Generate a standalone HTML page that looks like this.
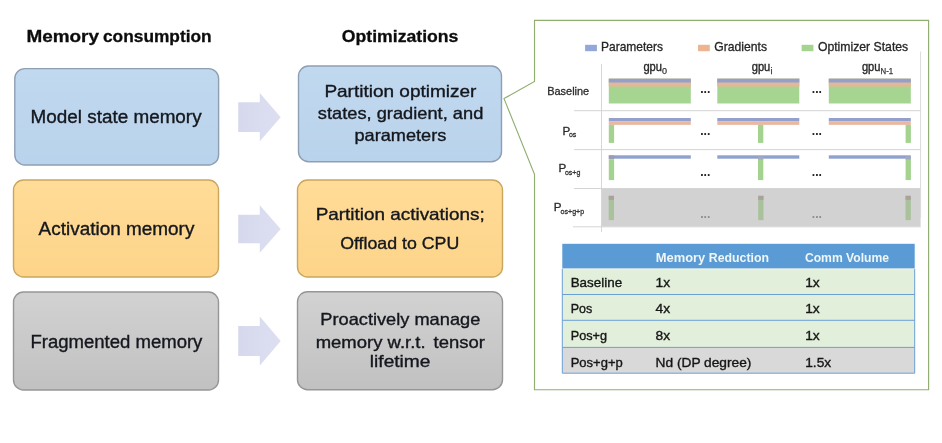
<!DOCTYPE html>
<html><head><meta charset="utf-8">
<style>
html,body{margin:0;padding:0;background:#fff;}
body{width:942px;height:443px;overflow:hidden;font-family:"Liberation Sans",sans-serif;}
svg{display:block;will-change:transform;}
text{font-family:"Liberation Sans",sans-serif;}
.t{fill:#0c0c0c;font-weight:bold;font-size:17.3px;stroke:#0c0c0c;stroke-width:.3px;}
.b{fill:#14171d;font-size:17.6px;stroke:#14171d;stroke-width:.35px;}
.b2{fill:#14171d;font-size:16.5px;stroke:#14171d;stroke-width:.35px;}
.l{fill:#262626;font-size:12.4px;stroke:#262626;stroke-width:.3px;}
.r{fill:#2a2a2a;font-size:11.6px;stroke:#2a2a2a;stroke-width:.3px;}
.s{fill:#333;font-size:7.6px;stroke:#333;stroke-width:.3px;}
.s2{fill:#333;font-size:9px;stroke:#333;stroke-width:.25px;}
.g{fill:#2a2a2a;font-size:12.6px;stroke:#2a2a2a;stroke-width:.4px;}
.c{fill:#161616;font-size:12.6px;stroke:#161616;stroke-width:.35px;}
.h{fill:#eef6f6;font-weight:bold;font-size:12.4px;}
.d{fill:#222;font-size:13px;font-weight:bold;}
</style></head>
<body>
<svg width="942" height="443" viewBox="0 0 942 443">
<defs>
<linearGradient id="gb" x1="0" y1="0" x2="0" y2="1"><stop offset="0" stop-color="#c1d9ef"/><stop offset="1" stop-color="#b9d3ec"/></linearGradient>
<linearGradient id="go" x1="0" y1="0" x2="0" y2="1"><stop offset="0" stop-color="#ffdc98"/><stop offset="1" stop-color="#fdd489"/></linearGradient>
<linearGradient id="gg" x1="0" y1="0" x2="0" y2="1"><stop offset="0" stop-color="#d2d2d2"/><stop offset="1" stop-color="#c1c1c1"/></linearGradient>
<linearGradient id="ga" x1="0" y1="0" x2="1" y2="0"><stop offset="0" stop-color="#d6d9ed"/><stop offset="1" stop-color="#dddff1"/></linearGradient>
</defs>
<rect width="942" height="443" fill="#fff"/>

<!-- titles -->
<text class="t" x="26.4" y="41.9" textLength="72.6" lengthAdjust="spacingAndGlyphs">Memory</text>
<text class="t" x="103" y="41.9" textLength="108.6" lengthAdjust="spacingAndGlyphs">consumption</text>
<text class="t" x="341.8" y="41.9" textLength="116.6" lengthAdjust="spacingAndGlyphs">Optimizations</text>

<!-- left boxes -->
<rect x="14.8" y="68.6" width="203.8" height="96.4" rx="10" fill="url(#gb)" stroke="#8f9fb3" stroke-width="1.4"/>
<rect x="13.5" y="180" width="205" height="97" rx="10" fill="url(#go)" stroke="#c9a75f" stroke-width="1.4"/>
<rect x="13.5" y="292" width="205" height="98" rx="10" fill="url(#gg)" stroke="#969696" stroke-width="1.4"/>

<!-- right boxes -->
<rect x="298.5" y="66" width="203" height="95.7" rx="10" fill="url(#gb)" stroke="#8f9fb3" stroke-width="1.4"/>
<rect x="297.5" y="180" width="205" height="97" rx="10" fill="url(#go)" stroke="#c9a75f" stroke-width="1.4"/>
<rect x="297.5" y="291.7" width="205" height="98" rx="10" fill="url(#gg)" stroke="#969696" stroke-width="1.4"/>

<!-- arrows -->
<path d="M238.2 102.3H259.8V93L280.7 117.2L259.8 141.3V132.1H238.2Z" fill="url(#ga)"/>
<path d="M238.2 214.7H259.8V205.2L280.7 228.9L259.8 252.7V243.2H238.2Z" fill="url(#ga)"/>
<path d="M238.2 326H259.8V316.6L280.7 341L259.8 365.4V355.9H238.2Z" fill="url(#ga)"/>

<!-- box labels -->
<text class="b" x="30.6" y="122.7" textLength="171" lengthAdjust="spacingAndGlyphs">Model state memory</text>
<text class="b" x="38.6" y="234.8" textLength="155.8" lengthAdjust="spacingAndGlyphs">Activation memory</text>
<text class="b" x="30.4" y="347.6" textLength="172" lengthAdjust="spacingAndGlyphs">Fragmented memory</text>

<text class="b2" x="324.4" y="97.4" textLength="152" lengthAdjust="spacingAndGlyphs">Partition optimizer</text>
<text class="b2" x="317.8" y="119.1" textLength="165.5" lengthAdjust="spacingAndGlyphs">states, gradient, and</text>
<text class="b2" x="354.5" y="140.7" textLength="91.8" lengthAdjust="spacingAndGlyphs">parameters</text>

<text class="b2" x="315.7" y="219.8" textLength="169.1" lengthAdjust="spacingAndGlyphs">Partition activations;</text>
<text class="b2" x="340.2" y="249.4" textLength="119.1" lengthAdjust="spacingAndGlyphs">Offload to CPU</text>

<text class="b2" x="320.3" y="324.5" textLength="160" lengthAdjust="spacingAndGlyphs">Proactively manage</text>
<text class="b2" x="315.7" y="347.5" textLength="109.9" lengthAdjust="spacingAndGlyphs">memory w.r.t.</text>
<text class="b2" x="433.6" y="347.5" textLength="51.3" lengthAdjust="spacingAndGlyphs">tensor</text>
<text class="b2" x="369.8" y="367.2" textLength="60.7" lengthAdjust="spacingAndGlyphs">lifetime</text>

<!-- callout frame -->
<path d="M534.5 20.3H928.6V389.7H534.5V174.3L504 98.6L534.5 81.4Z" fill="#fff" stroke="#8fae70" stroke-width="1.15" stroke-linejoin="miter"/>

<!-- legend -->
<rect x="585.1" y="44.8" width="11.8" height="6.4" fill="#93a8d8"/>
<text class="l" x="601" y="50.9" textLength="62" lengthAdjust="spacingAndGlyphs">Parameters</text>
<rect x="698" y="44.8" width="11.8" height="6.4" fill="#ecb491"/>
<text class="l" x="714.3" y="50.9" textLength="52.7" lengthAdjust="spacingAndGlyphs">Gradients</text>
<rect x="801.6" y="44.8" width="11.8" height="6.4" fill="#a4d48f"/>
<text class="l" x="817.9" y="50.9" textLength="90.3" lengthAdjust="spacingAndGlyphs">Optimizer States</text>

<!-- chart grid -->
<rect x="601.6" y="188.6" width="319" height="38" fill="#d2d2d2"/>
<g stroke="#d4d4d4" stroke-width="1" fill="none">
<path d="M601.5 64V232" stroke="#d6d6d6"/>
<path d="M920.6 51.6V218" stroke="#dadada"/>
<path d="M574 110.7H920.6"/>
<path d="M574 149.6H920.6"/>
<path d="M574 188.5H920.6"/>
<path d="M573 226.8H920.6"/>
</g>

<!-- gpu labels -->
<text class="g" x="643.4" y="70.9" textLength="18.6" lengthAdjust="spacingAndGlyphs">gpu</text><text class="s2" x="662" y="73.5">0</text>
<text class="g" x="751.7" y="70.9" textLength="18.6" lengthAdjust="spacingAndGlyphs">gpu</text><text class="s2" x="770.5" y="73.5">i</text>
<text class="g" x="861.9" y="70.9" textLength="18.6" lengthAdjust="spacingAndGlyphs">gpu</text><text class="s2" x="880.6" y="73.5" textLength="12.6" lengthAdjust="spacingAndGlyphs">N-1</text>

<!-- row labels -->
<text class="r" x="547.2" y="95.2" textLength="42" lengthAdjust="spacingAndGlyphs">Baseline</text>
<text class="r" x="562.6" y="134.6">P</text><text class="s" x="568.9" y="136.8" textLength="7.4" lengthAdjust="spacingAndGlyphs">os</text>
<text class="r" x="558.5" y="171.8">P</text><text class="s" x="564.9" y="174.5" textLength="15.4" lengthAdjust="spacingAndGlyphs">os+g</text>
<text class="r" x="553.7" y="211.3">P</text><text class="s" x="560.5" y="214.3" textLength="23.7" lengthAdjust="spacingAndGlyphs">os+g+p</text>

<!-- baseline bars -->
<g id="bb">
<rect x="608.8" y="78.7" width="82" height="24.8" fill="#a6d591"/>
<rect x="608.8" y="78.7" width="82" height="7.9" fill="#e2b896"/>
<rect x="608.8" y="78.7" width="82" height="3.8" fill="#949fcb"/>
</g>
<use href="#bb" x="108.5"/>
<use href="#bb" x="220"/>

<!-- Pos bars -->
<g id="pb">
<rect x="608.8" y="118" width="82" height="3.5" fill="#949fcb"/>
<rect x="608.8" y="121.5" width="82" height="3.4" fill="#e8b9a2"/>
</g>
<use href="#pb" x="108.5"/>
<use href="#pb" x="220"/>
<rect x="608.8" y="124.9" width="5.3" height="18" fill="#a4d28f"/>
<rect x="758" y="124.9" width="5.3" height="18" fill="#a4d28f"/>
<rect x="905.6" y="124.9" width="5.3" height="18" fill="#a4d28f"/>

<!-- Pos+g bars -->
<g id="qb">
<rect x="608.8" y="155.3" width="82" height="3.4" fill="#90a1cf"/>
</g>
<use href="#qb" x="108.5"/>
<use href="#qb" x="220"/>
<rect x="608.8" y="155.3" width="5.3" height="4" fill="#9c9eb0"/>
<rect x="608.8" y="159.3" width="5.3" height="20.8" fill="#a4d28f"/>
<rect x="758" y="158.7" width="5.3" height="21.4" fill="#a4d28f"/>
<rect x="758" y="156.5" width="5.3" height="3" fill="#a5a9c0"/>
<rect x="905.6" y="158.7" width="5.3" height="21.4" fill="#a4d28f"/>
<rect x="905.6" y="156.5" width="5.3" height="3" fill="#a5a9c0"/>

<!-- Pos+g+p bars -->
<rect x="608.7" y="195.8" width="5.3" height="24.4" fill="#a9c29c"/>
<rect x="608.7" y="195.8" width="5.3" height="4" fill="#aaa19c"/>
<rect x="758.2" y="195.8" width="5.3" height="24.4" fill="#a9c29c"/>
<rect x="758.2" y="195.8" width="5.3" height="4" fill="#aaa19c"/>
<rect x="905.5" y="195.8" width="5.3" height="24.4" fill="#a9c29c"/>
<rect x="905.5" y="195.8" width="5.3" height="4" fill="#aaa19c"/>

<!-- dots -->
<text class="d" x="700.2" y="93.2" textLength="10.2" lengthAdjust="spacingAndGlyphs">...</text>
<text class="d" x="811.8" y="93.2" textLength="10.2" lengthAdjust="spacingAndGlyphs">...</text>
<text class="d" x="700.2" y="134.9" textLength="10.2" lengthAdjust="spacingAndGlyphs">...</text>
<text class="d" x="811.8" y="134.9" textLength="10.2" lengthAdjust="spacingAndGlyphs">...</text>
<text class="d" x="700.2" y="176.4" textLength="10.2" lengthAdjust="spacingAndGlyphs">...</text>
<text class="d" x="811.8" y="176.4" textLength="10.2" lengthAdjust="spacingAndGlyphs">...</text>
<text class="d" x="700.2" y="217.8" textLength="10.2" lengthAdjust="spacingAndGlyphs" style="fill:#8e8e8e">...</text>
<text class="d" x="811.8" y="217.8" textLength="10.2" lengthAdjust="spacingAndGlyphs" style="fill:#8e8e8e">...</text>

<!-- table -->
<rect x="562.3" y="243.8" width="352.4" height="24.9" fill="#5b9bd5"/>
<rect x="562.3" y="268.7" width="352.4" height="78.7" fill="#e2efda"/>
<rect x="562.3" y="347.4" width="352.4" height="25.8" fill="#d9d9d9"/>
<g stroke="#6a9fd6" stroke-width="1" fill="none">
<path d="M562.3 294.5H914.7"/>
<path d="M562.3 320.3H914.7"/>
<path d="M562.3 347.4H914.7"/>
<path d="M562.3 269V373.2H914.7V269"/>
<path d="M562.8 269.1H914.2" stroke="#f0f6f2" stroke-width="0.8"/>
</g>
<text class="h" x="655.7" y="262.1" textLength="49.6" lengthAdjust="spacingAndGlyphs">Memory</text>
<text class="h" x="708.8" y="262.1" textLength="60.2" lengthAdjust="spacingAndGlyphs">Reduction</text>
<text class="h" x="804.9" y="262.1" textLength="84.2" lengthAdjust="spacingAndGlyphs">Comm Volume</text>

<text class="c" x="570.7" y="287.1" textLength="51.4" lengthAdjust="spacingAndGlyphs">Baseline</text>
<text class="c" x="655.6" y="287.1" textLength="14.6" lengthAdjust="spacingAndGlyphs">1x</text>
<text class="c" x="805.2" y="287.1" textLength="14.6" lengthAdjust="spacingAndGlyphs">1x</text>

<text class="c" x="570.7" y="313.4" textLength="21.5" lengthAdjust="spacingAndGlyphs">Pos</text>
<text class="c" x="655.6" y="313.4" textLength="14.6" lengthAdjust="spacingAndGlyphs">4x</text>
<text class="c" x="805.2" y="313.4" textLength="14.6" lengthAdjust="spacingAndGlyphs">1x</text>

<text class="c" x="570.7" y="340" textLength="36.3" lengthAdjust="spacingAndGlyphs">Pos+g</text>
<text class="c" x="655.6" y="340" textLength="14.6" lengthAdjust="spacingAndGlyphs">8x</text>
<text class="c" x="805.2" y="340" textLength="14.6" lengthAdjust="spacingAndGlyphs">1x</text>

<text class="c" x="570.7" y="366.5" textLength="52.1" lengthAdjust="spacingAndGlyphs">Pos+g+p</text>
<text class="c" x="655.6" y="366.5" textLength="95.8" lengthAdjust="spacingAndGlyphs">Nd (DP degree)</text>
<text class="c" x="805.2" y="366.5" textLength="26" lengthAdjust="spacingAndGlyphs">1.5x</text>
</svg>
</body></html>
